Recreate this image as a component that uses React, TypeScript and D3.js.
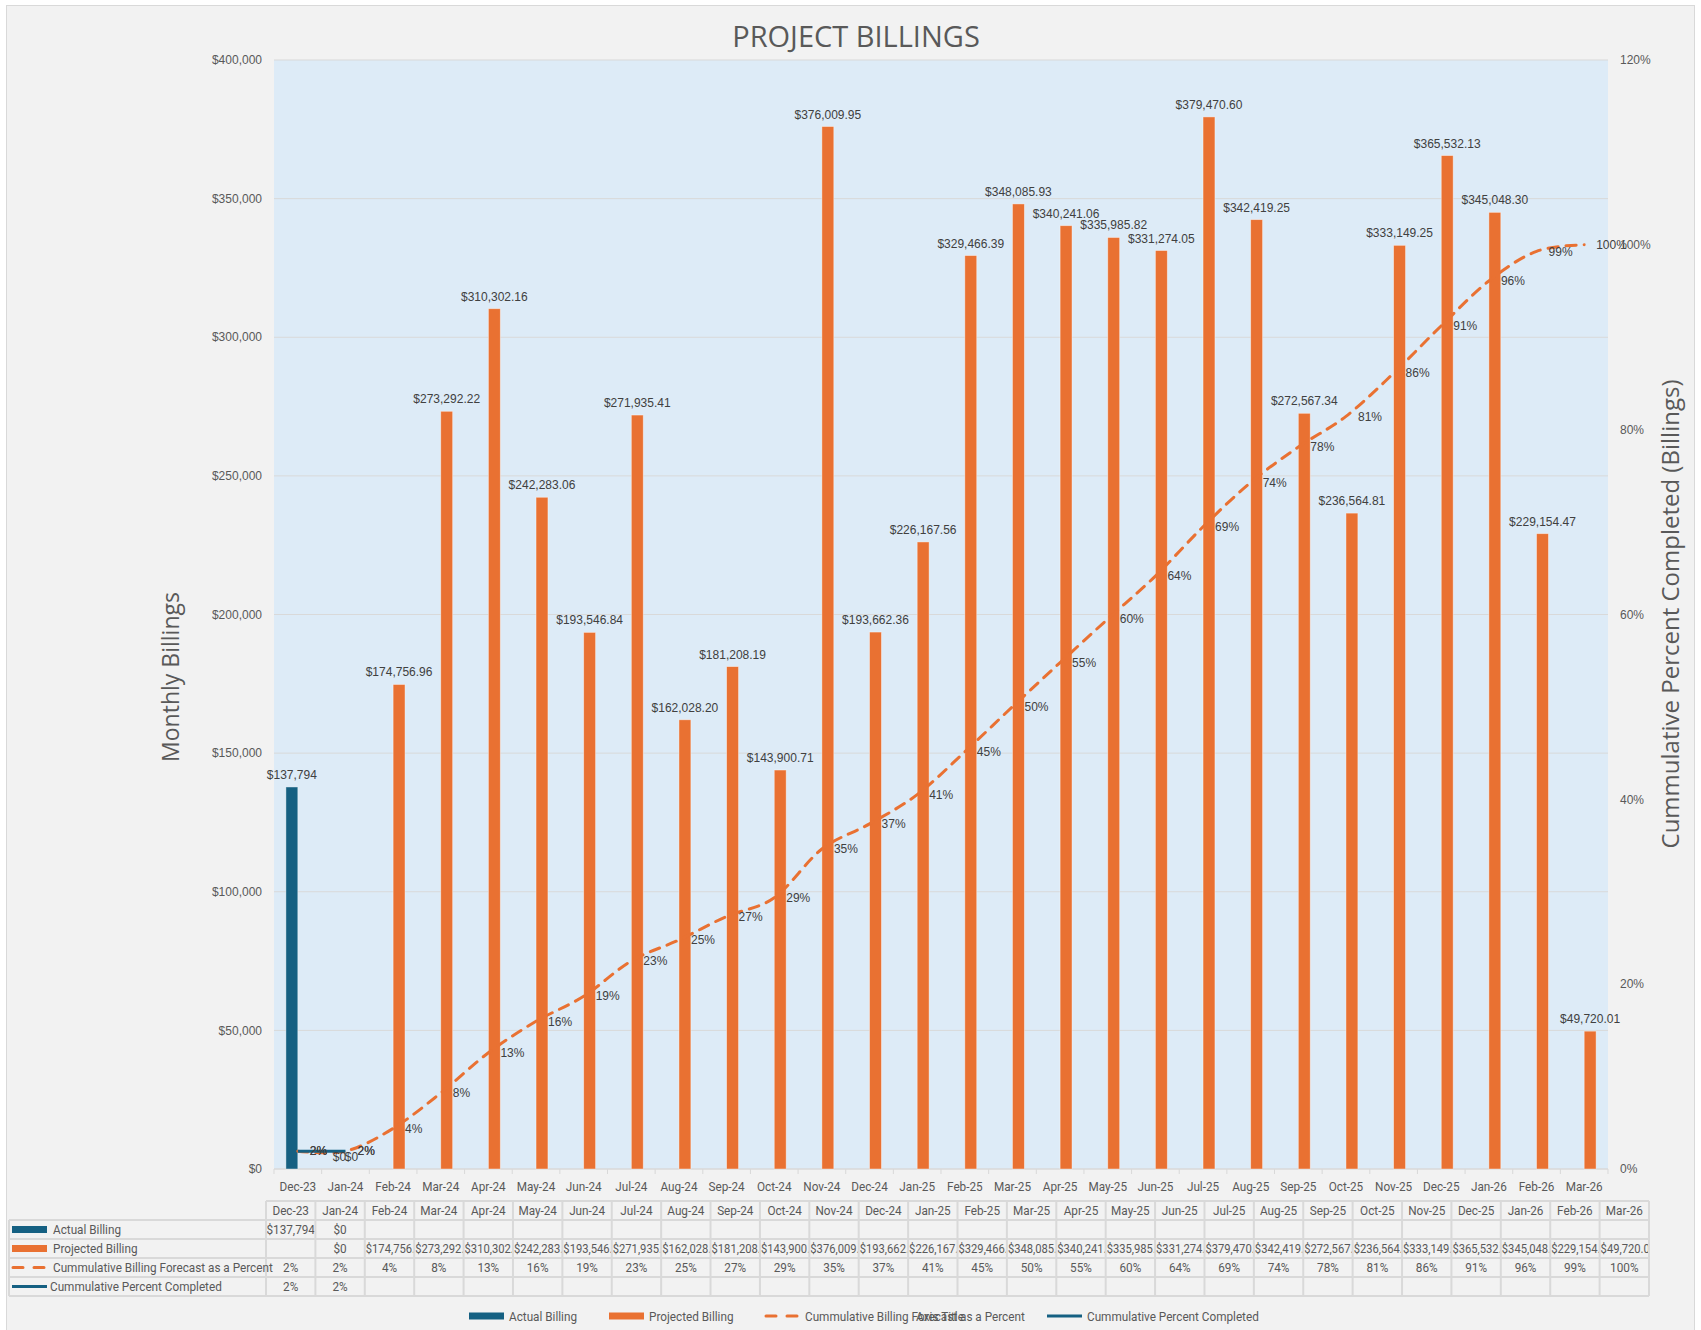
import * as d3 from "d3";

const categories = [
  "Dec-23", "Jan-24", "Feb-24", "Mar-24", "Apr-24", "May-24", "Jun-24",
  "Jul-24", "Aug-24", "Sep-24", "Oct-24", "Nov-24", "Dec-24", "Jan-25",
  "Feb-25", "Mar-25", "Apr-25", "May-25", "Jun-25", "Jul-25", "Aug-25",
  "Sep-25", "Oct-25", "Nov-25", "Dec-25", "Jan-26", "Feb-26", "Mar-26",
];

const actualBilling: (number | null)[] = [
  137794, 0, null, null, null, null, null, null, null, null, null, null, null, null,
  null, null, null, null, null, null, null, null, null, null, null, null, null, null,
];

const projectedBilling: (number | null)[] = [
  null, 0, 174756.96, 273292.22, 310302.16, 242283.06, 193546.84, 271935.41,
  162028.2, 181208.19, 143900.71, 376009.95, 193662.36, 226167.56, 329466.39,
  348085.93, 340241.06, 335985.82, 331274.05, 379470.6, 342419.25, 272567.34,
  236564.81, 333149.25, 365532.13, 345048.3, 229154.47, 49720.01,
];

// cumulative forecast, percent
const forecastPct = [
  1.93, 1.93, 4.39, 8.22, 12.58, 15.98, 18.69, 22.51, 24.78, 27.33, 29.35,
  34.62, 37.34, 40.51, 45.14, 50.02, 54.8, 59.51, 64.16, 69.49, 74.29, 78.12,
  81.44, 86.11, 91.24, 96.09, 99.3, 100,
];

const completedPct: (number | null)[] = [
  1.93, 1.93, null, null, null, null, null, null, null, null, null, null, null, null,
  null, null, null, null, null, null, null, null, null, null, null, null, null, null,
];

const leftTicks = [0, 50000, 100000, 150000, 200000, 250000, 300000, 350000, 400000];
const rightTicks = [0, 20, 40, 60, 80, 100, 120];

const BLUE = "#156082";
const ORANGE = "#E97132";
const GREY = "#595959";
const LINE = "#D9D9D9";
const LABEL_FONT = "'Liberation Sans', Arial, sans-serif";
const TITLE_FONT = "'Open Sans', 'Noto Sans', sans-serif";
const TABLE_FONT = "Roboto, 'Noto Sans', sans-serif";
const NARROW = 0.87;

const plot = { left: 274, right: 1608, top: 60, bottom: 1169 };
const table = { keyLeft: 9, left: 266, right: 1649, top: 1201, rowH: 19 };

const fmtWhole = d3.format("$,.0f");
const fmtCents = d3.format("$,.2f");
const fmtMoney = (v: number) => (v === 0 ? "$0" : fmtCents(v));
const fmtPct = (v: number) => d3.format(".0%")(v / 100);

// narrow text (stand-in for a condensed font)
function NText({ x, y, anchor = "start", sx = NARROW, children }: {
  x: number; y: number; anchor?: "start" | "middle" | "end"; sx?: number; children: string;
}) {
  return (
    <text transform={`translate(${x},${y}) scale(${sx},1)`} dy="0.35em" textAnchor={anchor}>
      {children}
    </text>
  );
}

export default function App() {
  const x = d3.scaleBand<string>().domain(categories).range([plot.left, plot.right]);
  const bw = x.bandwidth();
  const inner = d3
    .scaleBand<string>()
    .domain(["actual", "projected"])
    .range([0, bw])
    .paddingInner(0)
    .paddingOuter(1);
  const y = d3.scaleLinear().domain([0, 400000]).range([plot.bottom, plot.top]);
  const yr = d3.scaleLinear().domain([0, 120]).range([plot.bottom, plot.top]);
  const cx = (c: string) => (x(c) ?? 0) + bw / 2;

  const forecastLine = d3
    .line<number>()
    .x((_, i) => cx(categories[i]))
    .y((d) => yr(d))
    .curve(d3.curveCardinal.tension(0));

  const completedPts = completedPct
    .map((v, i) => ({ v, c: categories[i] }))
    .filter((d) => d.v !== null) as { v: number; c: string }[];
  const completedLine = d3
    .line<{ v: number; c: string }>()
    .x((d) => cx(d.c))
    .y((d) => yr(d.v));

  const colW = (table.right - table.left) / categories.length;
  const rowY = (r: number) => table.top + r * table.rowH;

  const rowLabels = [
    "Actual Billing",
    "Projected Billing",
    "Cummulative Billing Forecast as a Percent",
    "Cummulative Percent Completed",
  ];
  const rowValues: string[][] = [
    actualBilling.map((v) => (v === null ? "" : fmtWhole(v))),
    projectedBilling.map((v) => (v === null ? "" : fmtMoney(v))),
    forecastPct.map((v) => fmtPct(v)),
    completedPct.map((v) => (v === null ? "" : fmtPct(v))),
  ];

  const keyMark = (kind: number, x0: number, x1: number, yc: number) => {
    if (kind === 0) return <rect x={x0} y={yc - 3.5} width={x1 - x0} height={7} fill={BLUE} />;
    if (kind === 1) return <rect x={x0} y={yc - 3.5} width={x1 - x0} height={7} fill={ORANGE} />;
    if (kind === 2)
      return (
        <line x1={x0 + 1} x2={x1} y1={yc} y2={yc} stroke={ORANGE} strokeWidth={3}
          strokeDasharray="10 11" strokeLinecap="round" />
      );
    return <line x1={x0} x2={x1} y1={yc} y2={yc} stroke={BLUE} strokeWidth={3} />;
  };

  const legendItems = [
    { label: "Actual Billing", x0: 469 },
    { label: "Projected Billing", x0: 609 },
    { label: "Cummulative Billing Forecast as a Percent", x0: 765 },
    { label: "Cummulative Percent Completed", x0: 1047 },
  ];

  return (
    <svg
      width={1701}
      height={1330}
      style={{ position: "absolute", left: 0, top: 0, display: "block" }}
    >
      <rect x={0} y={0} width={1701} height={1330} fill="#ffffff" />
      <rect x={6.5} y={5.5} width={1688} height={1340} fill="#F2F2F2" stroke={LINE} />

      <text x={856} y={47} textAnchor="middle" fontFamily={TITLE_FONT} fontSize={29} fill={GREY}>
        PROJECT BILLINGS
      </text>

      {/* plot area */}
      <rect x={plot.left} y={plot.top} width={plot.right - plot.left} height={plot.bottom - plot.top} fill="#DDEBF7" />
      {leftTicks.map((t) => (
        <g key={t}>
          {t > 0 && <line x1={plot.left} x2={plot.right} y1={y(t)} y2={y(t)} stroke={LINE} strokeWidth={1} />}
          <text x={262} y={y(t)} dy="0.35em" textAnchor="end" fontFamily={LABEL_FONT} fontSize={12} fill={GREY}>
            {fmtWhole(t)}
          </text>
        </g>
      ))}
      {rightTicks.map((t) => (
        <text key={t} x={1620} y={yr(t)} dy="0.35em" fontFamily={LABEL_FONT} fontSize={12} fill={GREY}>
          {fmtPct(t)}
        </text>
      ))}

      <text
        transform={`translate(171,677) rotate(-90)`}
        textAnchor="middle" dy="0.35em" fontFamily={TITLE_FONT} fontSize={23} fill={GREY}
      >
        Monthly Billings
      </text>
      <text
        transform={`translate(1671,614) rotate(-90)`}
        textAnchor="middle" dy="0.35em" fontFamily={TITLE_FONT} fontSize={24} fill={GREY}
      >
        Cummulative Percent Completed (Billings)
      </text>

      {/* category axis */}
      <line x1={plot.left} x2={plot.right} y1={plot.bottom} y2={plot.bottom} stroke={LINE} strokeWidth={1.5} />
      <g fontFamily={TABLE_FONT} fontSize={13.5} fill={GREY}>
        {categories.map((c) => (
          <g key={c}>
            <line x1={x(c)} x2={x(c)} y1={plot.bottom} y2={plot.bottom + 5} stroke={LINE} />
            <NText x={cx(c)} y={1186} anchor="middle">{c}</NText>
          </g>
        ))}
      </g>
      <line x1={plot.right} x2={plot.right} y1={plot.bottom} y2={plot.bottom + 5} stroke={LINE} />

      {/* bars */}
      {categories.map((c, i) => {
        const a = actualBilling[i];
        const p = projectedBilling[i];
        const ax = (x(c) ?? 0) + (inner("actual") ?? 0);
        const px = (x(c) ?? 0) + (inner("projected") ?? 0);
        const w = inner.bandwidth();
        return (
          <g key={c}>
            {a !== null && (
              <rect x={ax} y={y(a)} width={w} height={plot.bottom - y(a)} fill={BLUE}
                stroke="#ffffff" strokeOpacity={0.5} strokeWidth={0.8} />
            )}
            {p !== null && (
              <rect x={px} y={y(p)} width={w} height={plot.bottom - y(p)} fill={ORANGE}
                stroke="#ffffff" strokeOpacity={0.5} strokeWidth={0.8} />
            )}
          </g>
        );
      })}

      {/* lines */}
      <path d={forecastLine(forecastPct) ?? ""} fill="none" stroke={ORANGE} strokeWidth={3}
        strokeDasharray="10 8" strokeLinecap="round" />
      <path d={completedLine(completedPts) ?? ""} fill="none" stroke={BLUE} strokeWidth={3} />

      {/* data labels */}
      {categories.map((c, i) => {
        const a = actualBilling[i];
        const p = projectedBilling[i];
        const w = inner.bandwidth();
        const ax = (x(c) ?? 0) + (inner("actual") ?? 0) + w / 2;
        const px = (x(c) ?? 0) + (inner("projected") ?? 0) + w / 2;
        return (
          <g key={c} fontFamily={LABEL_FONT} fontSize={12} fill="#404040">
            {a !== null && (
              <text x={ax} y={y(a) - 8} textAnchor="middle">{fmtWhole(a)}</text>
            )}
            {p !== null && (
              <text x={px} y={y(p) - 8} textAnchor="middle">{fmtMoney(p)}</text>
            )}
            <text x={cx(c) + 12} y={yr(forecastPct[i])} dy="0.35em">{fmtPct(forecastPct[i])}</text>
            {completedPct[i] !== null && (
              <text x={cx(c) + 12} y={yr(completedPct[i] as number)} dy="0.35em">
                {fmtPct(completedPct[i] as number)}
              </text>
            )}
          </g>
        );
      })}

      {/* data table */}
      <defs>
        {categories.map((c, i) => (
          <clipPath id={`cell-${i}`} key={c}>
            <rect x={table.left + i * colW + 1} y={table.top} width={colW - 2} height={table.rowH * 5} />
          </clipPath>
        ))}
      </defs>
      <g stroke={LINE} strokeWidth={2} fill="none">
        <line x1={table.left} x2={table.right} y1={rowY(0)} y2={rowY(0)} />
        {[1, 2, 3, 4, 5].map((r) => (
          <line key={r} x1={table.keyLeft} x2={table.right} y1={rowY(r)} y2={rowY(r)} />
        ))}
        <line x1={table.keyLeft} x2={table.keyLeft} y1={rowY(1)} y2={rowY(5)} />
        {d3.range(categories.length + 1).map((i) => (
          <line key={i} x1={table.left + i * colW} x2={table.left + i * colW} y1={rowY(0)} y2={rowY(5)} />
        ))}
      </g>
      <g fontFamily={TABLE_FONT} fontSize={13.5} fill={GREY}>
        {categories.map((c, i) => (
          <NText key={c} x={table.left + (i + 0.5) * colW} y={rowY(0) + table.rowH / 2} anchor="middle">
            {c}
          </NText>
        ))}
        {rowLabels.map((lab, r) => {
          const yc = rowY(r + 1) + table.rowH / 2;
          return (
            <g key={lab}>
              {keyMark(r, 12, 47, yc)}
              <NText x={r === 3 ? 50 : 53} y={yc}>{lab}</NText>
              {rowValues[r].map((v, i) => {
                const wide = v.length > 8;
                return (
                  <g key={i} clipPath={`url(#cell-${i})`}>
                    <NText
                      x={wide ? table.left + i * colW + 1 : table.left + (i + 0.5) * colW}
                      y={yc}
                      anchor={wide ? "start" : "middle"}
                      sx={wide ? 0.83 : NARROW}
                    >
                      {v}
                    </NText>
                  </g>
                );
              })}
            </g>
          );
        })}
      </g>

      {/* legend */}
      <g fontFamily={TABLE_FONT} fontSize={13.5} fill={GREY}>
        {legendItems.map((it, r) => (
          <g key={it.label}>
            {keyMark(r, it.x0, it.x0 + 35, 1316)}
            <NText x={it.x0 + 40} y={1316}>{it.label}</NText>
          </g>
        ))}
        <NText x={940} y={1316} anchor="middle">Axis Title</NText>
      </g>
    </svg>
  );
}
